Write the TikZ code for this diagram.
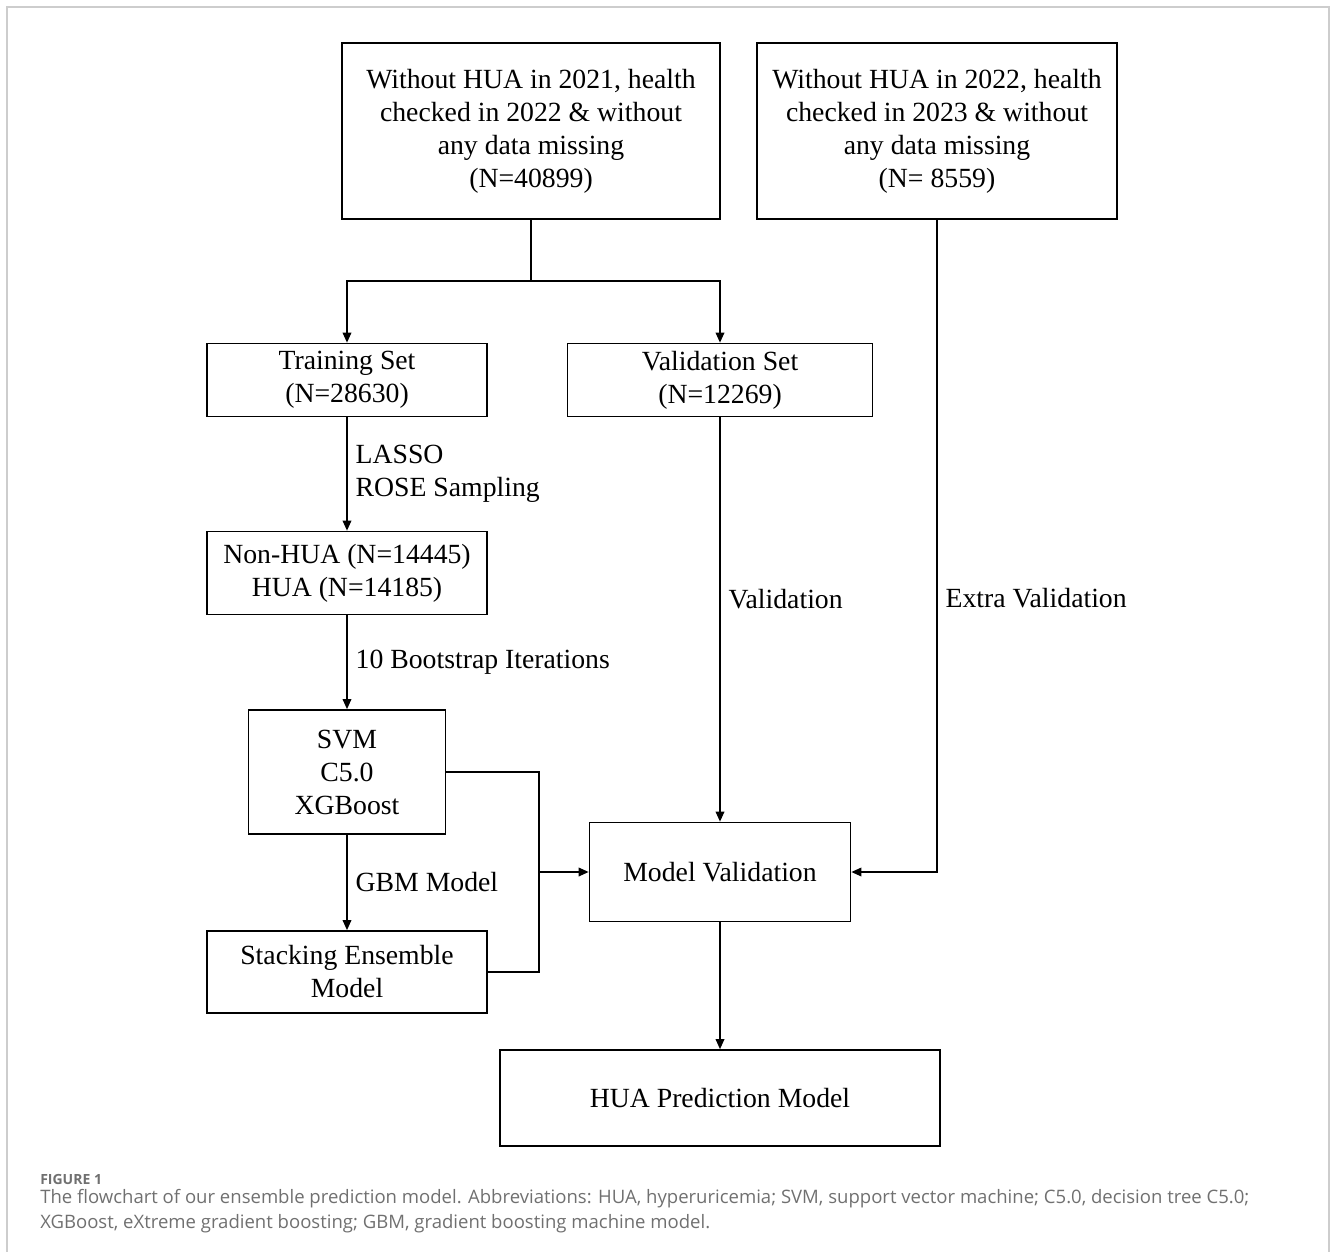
\documentclass[tikz,border=0pt]{standalone}
\usepackage{fontspec}
\setmainfont{Liberation Serif}
\newfontfamily\capfont{Open Sans}
\usetikzlibrary{arrows.meta}
\definecolor{capgray}{RGB}{112,112,112}
\definecolor{framegray}{RGB}{205,205,205}

\begin{document}
\begin{tikzpicture}[x=0.75pt,y=-0.75pt,
  box/.style n args={2}{draw,line width=1.3pt,rectangle,align=center,inner sep=0pt,
    minimum width=#1*0.75pt,minimum height=#2*0.75pt,font=\fontsize{20.8}{24.75}\selectfont},
  lbl/.style={align=left,inner sep=6pt,font=\fontsize{20.8}{24.75}\selectfont},
  wire/.style={line width=1pt},
  conn/.style={wire,-{Triangle[length=7.5pt,width=6.5pt]}}]
\useasboundingbox (0,0) rectangle (1331,1252);
\draw[framegray,line width=1pt] (7,1270) -- (7,7) -- (1329,7) -- (1329,1270);
% boxes
\node[box={378}{176}] (first) at (531,131) {Without HUA in 2021, health\\checked in 2022 \& without\\any data missing\\(N=40899)};
\node[box={360}{176}] (second) at (937,131) {Without HUA in 2022, health\\checked in 2023 \& without\\any data missing\\(N= 8559)};
\node[box={280}{73}] (train) at (347,380) {Training Set\\(N=28630)};
\node[box={305}{73}] (valid) at (720,380) {Validation Set\\(N=12269)};
\node[box={280}{83}] (balance) at (347,573) {Non-HUA (N=14445)\\HUA (N=14185)};
\node[box={197}{124}] (base) at (347,772) {SVM\\C5.0\\XGBoost};
\node[box={280}{82}] (stack) at (347,972) {Stacking Ensemble\\Model};
\node[box={261}{99}] (mval) at (720,872) {Model Validation};
\node[box={440}{96}] (final) at (720,1098) {HUA Prediction Model};
% connectors
\draw[wire] (first.south) -- (531,281) coordinate (split);
\draw[conn] (split) -| (train.north);
\draw[conn] (split) -| (valid.north);
\draw[conn] (train.south) -- node[lbl,right]{LASSO\\ROSE Sampling} (balance.north);
\draw[conn] (balance.south) -- node[lbl,right]{10 Bootstrap Iterations} (base.north);
\draw[conn] (base.south) -- node[lbl,right]{GBM Model} (stack.north);
\draw[conn] (valid.south) -- node[lbl,right,pos=0.45]{Validation} (mval.north);
\draw[conn] (second.south) |- node[lbl,right,pos=0.29]{Extra Validation} (mval.east);
\draw[wire] (base.east) -- (539,772) coordinate (join) |- (stack.east);
\draw[conn] (join |- mval.west) -- (mval.west);
\draw[conn] (mval.south) -- (final.north);
% caption
\node[anchor=base west,inner sep=0pt,capgray,font=\capfont\bfseries\fontsize{10.5}{12}\selectfont] (fig) at (40,1184) {FIGURE 1};
\node[anchor=base west,align=left,inner sep=0pt,capgray,font=\capfont\fontsize{13.9}{18.75}\selectfont] (cap) at (40,1228)
  {The flowchart of our ensemble prediction model. Abbreviations: HUA, hyperuricemia; SVM, support vector machine; C5.0, decision tree C5.0;\\
   XGBoost, eXtreme gradient boosting; GBM, gradient boosting machine model.};
\end{tikzpicture}
\end{document}
